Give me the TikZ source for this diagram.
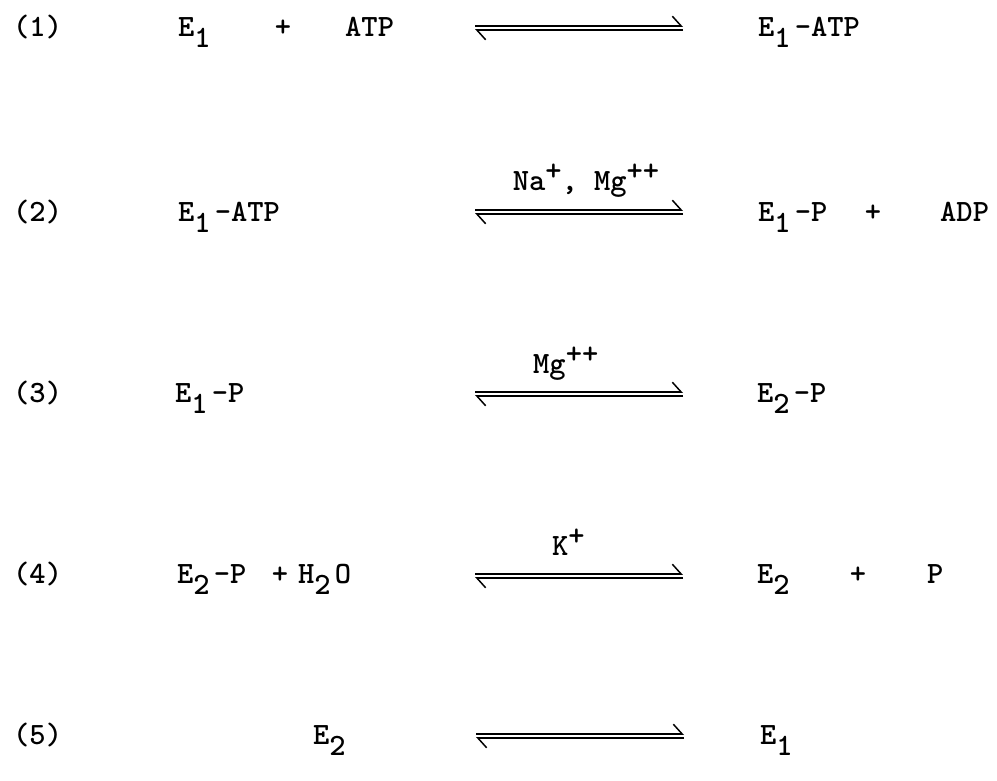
\documentclass[tikz,border=0pt]{standalone}
\usepackage{tikz}
\usetikzlibrary{arrows.meta}

\newcommand{\lo}[1]{\raisebox{-11pt}{#1}\hspace{4pt}}
\newcommand{\up}[1]{\raisebox{10pt}{#1}}
\tikzset{
  every node/.style={font=\fontsize{31}{34}\selectfont\ttfamily\bfseries, inner sep=0pt, anchor=base west},
  fwd/.style={-{Straight Barb[harpoon,length=9pt,width=20pt]}, line width=1.5pt},
}
\newcommand{\equil}[2]{%
  \draw[fwd] ([yshift=1.8pt]#1) -- ([yshift=1.8pt]#2);
  \draw[fwd] ([yshift=-1.8pt]#2) -- ([yshift=-1.8pt]#1);}

\begin{document}
\begin{tikzpicture}[x=1pt,y=-1pt]
			\useasboundingbox (0,0) rectangle (997,781);
			
			% reaction (1)
			\node (n1) at (13,37) {(1)};
			\node (l1) at (178,37) {E\lo{1}};
			\node[anchor=base] (p1) at (283,37) {+};
			\node (m1) at (345,37) {ATP};
			\coordinate (a1w) at (475,28);
			\coordinate (a1e) at (683,28);
			\equil{a1w}{a1e}
			\node (r1) at (758,37) {E\lo{1}-ATP};
			
			% reaction (2)
			\node (n2) at (13,222) {(2)};
			\node (l2) at (178,222) {E\lo{1}-ATP};
			\coordinate (a2w) at (475,212);
			\coordinate (a2e) at (683,212);
			\equil{a2w}{a2e}
			\node[anchor=base] (c2) at (586,191) {Na\up{+}, Mg\up{++}};
			\node (r2) at (758,222) {E\lo{1}-P};
			\node[anchor=base] (q2) at (873,222) {+};
			\node (s2) at (940,222) {ADP};
			
			% reaction (3)
			\node (n3) at (13,402) {(3)};
			\node (l3) at (175,402) {E\lo{1}-P};
			\coordinate (a3w) at (475,394);
			\coordinate (a3e) at (683,394);
			\equil{a3w}{a3e}
			\node (c3) at (533,373) {Mg\up{++}};
			\node (r3) at (757,402) {E\lo{2}-P};
			
			% reaction (4)
			\node (n4) at (13,583) {(4)};
			\node (l4) at (177,583) {E\lo{2}-P};
			\node[anchor=base] (p4) at (280,583) {+};
			\node (m4) at (298,583) {H\lo{2}O};
			\coordinate (a4w) at (475,576);
			\coordinate (a4e) at (683,576);
			\equil{a4w}{a4e}
			\node (c4) at (552,555) {K\up{+}};
			\node (r4) at (757,583) {E\lo{2}};
			\node[anchor=base] (q4) at (858,583) {+};
			\node (s4) at (927,583) {P};
			
			% reaction (5)
			\node (n5) at (13,744) {(5)};
			\node (l5) at (313,744) {E\lo{2}};
			\coordinate (a5w) at (476,736);
			\coordinate (a5e) at (684,736);
			\equil{a5w}{a5e}
			\node (r5) at (760,744) {E\lo{1}};
			
		\end{tikzpicture}
\end{document}
